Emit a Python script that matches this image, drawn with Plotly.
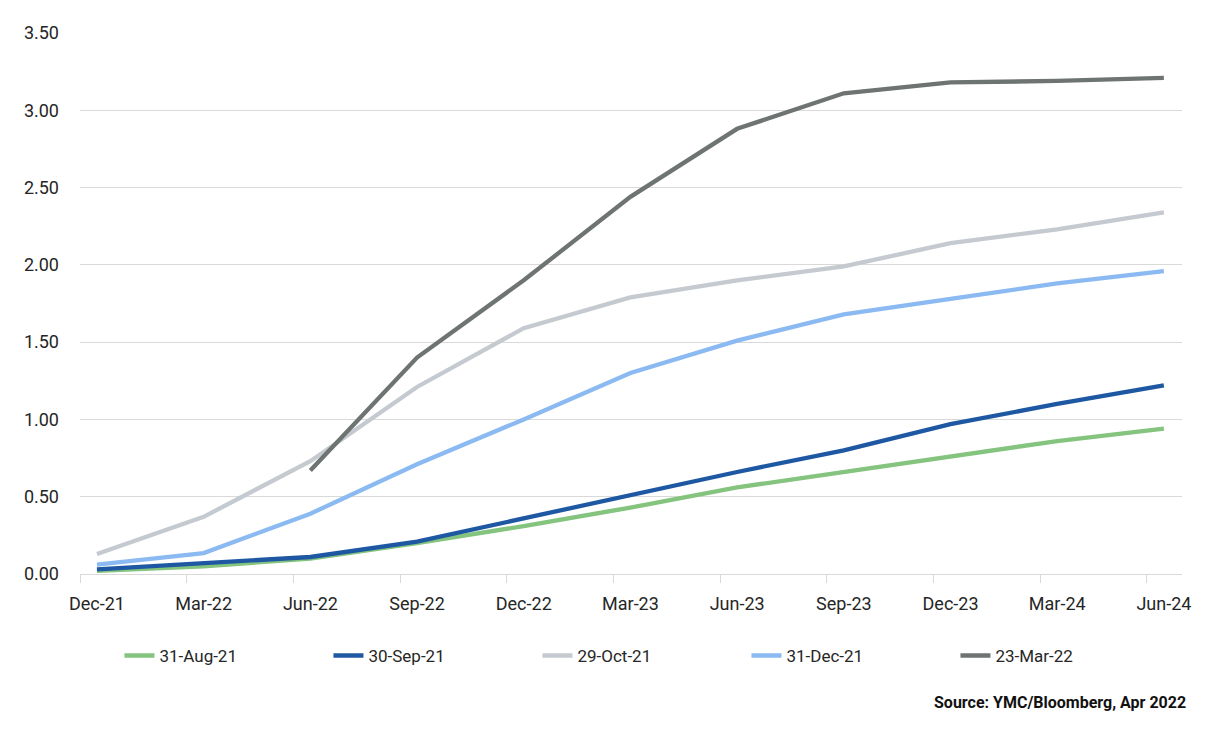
import plotly.graph_objects as go

categories = ["Dec-21", "Mar-22", "Jun-22", "Sep-22", "Dec-22", "Mar-23",
              "Jun-23", "Sep-23", "Dec-23", "Mar-24", "Jun-24"]

aug_31_21 = [0.02, 0.05, 0.10, 0.20, 0.31, 0.43, 0.56, 0.66, 0.76, 0.86, 0.94]
sep_30_21 = [0.03, 0.07, 0.11, 0.21, 0.36, 0.51, 0.66, 0.80, 0.97, 1.10, 1.22]
oct_29_21 = [0.13, 0.37, 0.73, 1.21, 1.59, 1.79, 1.90, 1.99, 2.14, 2.23, 2.34]
dec_31_21 = [0.06, 0.135, 0.39, 0.71, 1.00, 1.30, 1.51, 1.68, 1.78, 1.88, 1.96]
mar_23_22 = [None, None, 0.67, 1.40, 1.90, 2.44, 2.88, 3.11, 3.18, 3.19, 3.21]

series_names = ["31-Aug-21", "30-Sep-21", "29-Oct-21", "31-Dec-21", "23-Mar-22"]
series_values = [aug_31_21, sep_30_21, oct_29_21, dec_31_21, mar_23_22]
series_colors = ["#84c47e", "#1f58a2", "#c4cad0", "#8bbaf2", "#6e7471"]

x_idx = list(range(len(categories)))
tick_offset = 0.159  # tick marks sit at period boundaries, labels at data points

fig = go.Figure()
for name, vals, col in zip(series_names, series_values, series_colors):
    fig.add_trace(go.Scatter(
        x=x_idx, y=vals, name=name, mode="lines",
        line=dict(color=col, width=4.3),
        connectgaps=False,
    ))

fig.update_layout(
    width=1216, height=729,
    margin=dict(l=72, r=42, t=25, b=163),
    paper_bgcolor="white", plot_bgcolor="white",
    font=dict(family="Roboto", size=17, color="#262626"),
    showlegend=True,
    legend=dict(
        orientation="h", x=0.0358, xanchor="left", y=-0.1515, yanchor="middle",
        entrywidth=164, entrywidthmode="pixels",
        font=dict(family="Roboto", size=17, color="#262626"),
        itemwidth=30, tracegroupgap=0,
    ),
    xaxis=dict(
        range=[-tick_offset, 10.17],
        tickvals=[i - tick_offset for i in x_idx],
        ticktext=categories,
        ticklabelshift=17,
        ticklabelstandoff=5,
        ticks="outside", ticklen=8, tickcolor="#d9d9d9", tickwidth=1,
        showgrid=False, zeroline=False,
        showline=True, linecolor="#d9d9d9", linewidth=1,
        tickfont=dict(family="Roboto", size=18, color="#262626"),
    ),
    yaxis=dict(
        range=[0, 3.5], dtick=0.5, tick0=0, tickformat=".2f",
        showgrid=True, gridcolor="#d9d9d9", gridwidth=1,
        zeroline=False, showline=False, ticks="",
        ticklabelstandoff=20,
        tickfont=dict(family="Roboto", size=18, color="#262626"),
    ),
)

fig.add_annotation(
    text="<b>Source: YMC/Bloomberg, Apr 2022</b>",
    xref="paper", yref="paper", x=1.0054, y=-0.238,
    xanchor="right", yanchor="middle", showarrow=False,
    font=dict(family="Roboto", size=16, color="#111111"),
)

fig.write_html("out.html")
